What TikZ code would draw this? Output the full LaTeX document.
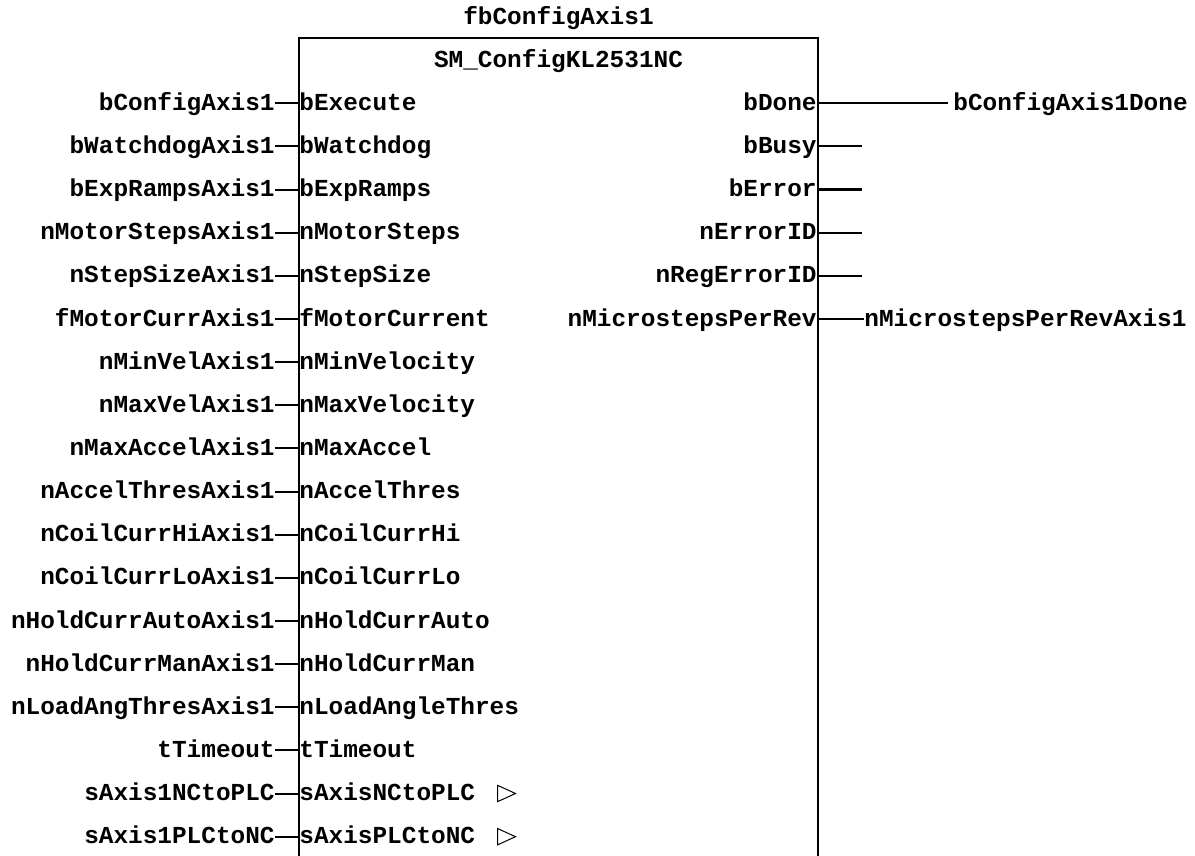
\documentclass[tikz,border=0pt]{standalone}
\usepackage{fontspec}
\setmainfont{Liberation Mono}

\begin{document}
\begin{tikzpicture}[x=0.5pt, y=-0.5pt,
    every node/.style = {font=\fontsize{12.2}{14}\selectfont\bfseries, inner sep=0pt},
    label/.style = {text height=9pt, text depth=2pt},
    invar/.style = {label, anchor=east},
    inpin/.style = {label, anchor=west},
    outpin/.style = {label, anchor=east},
    outvar/.style = {label, anchor=west},
    wire/.style = {line width=1pt},
    refmark/.style = {line width=0.5pt}]
                        \useasboundingbox (0,0) rectangle (1195,856);

                        % block outline, open at the bottom
                        \draw[line width=1pt] (299,856) -- (299,38.3) -- (818,38.3) -- (818,856);
                        \node[anchor=base] (inst) at (558.5,25) {fbConfigAxis1};
                        \node[anchor=base] (type) at (558.5,68) {SM\_ConfigKL2531NC};

                        % inputs
                        \node[inpin] (pExecute) at (299,103.3) {bExecute};
                        \node[inpin] (pWatchdog) at (299,146.4) {bWatchdog};
                        \node[inpin] (pExpRamps) at (299,189.6) {bExpRamps};
                        \node[inpin] (pMotorSteps) at (299,232.7) {nMotorSteps};
                        \node[inpin] (pStepSize) at (299,275.9) {nStepSize};
                        \node[inpin] (pMotorCurr) at (299,319.0) {fMotorCurrent};
                        \node[inpin] (pMinVel) at (299,362.1) {nMinVelocity};
                        \node[inpin] (pMaxVel) at (299,405.3) {nMaxVelocity};
                        \node[inpin] (pMaxAccel) at (299,448.4) {nMaxAccel};
                        \node[inpin] (pAccelThres) at (299,491.6) {nAccelThres};
                        \node[inpin] (pCoilHi) at (299,534.7) {nCoilCurrHi};
                        \node[inpin] (pCoilLo) at (299,577.8) {nCoilCurrLo};
                        \node[inpin] (pHoldAuto) at (299,621.0) {nHoldCurrAuto};
                        \node[inpin] (pHoldMan) at (299,664.1) {nHoldCurrMan};
                        \node[inpin] (pLoadAng) at (299,707.3) {nLoadAngleThres};
                        \node[inpin] (pTimeout) at (299,750.4) {tTimeout};
                        \node[inpin] (pNCtoPLC) at (299,793.5) {sAxisNCtoPLC};
                        \node[inpin] (pPLCtoNC) at (299,836.7) {sAxisPLCtoNC};

                        \node[invar] (vExecute) at (275,103.3) {bConfigAxis1};
                        \node[invar] (vWatchdog) at (275,146.4) {bWatchdogAxis1};
                        \node[invar] (vExpRamps) at (275,189.6) {bExpRampsAxis1};
                        \node[invar] (vMotorSteps) at (275,232.7) {nMotorStepsAxis1};
                        \node[invar] (vStepSize) at (275,275.9) {nStepSizeAxis1};
                        \node[invar] (vMotorCurr) at (275,319.0) {fMotorCurrAxis1};
                        \node[invar] (vMinVel) at (275,362.1) {nMinVelAxis1};
                        \node[invar] (vMaxVel) at (275,405.3) {nMaxVelAxis1};
                        \node[invar] (vMaxAccel) at (275,448.4) {nMaxAccelAxis1};
                        \node[invar] (vAccelThres) at (275,491.6) {nAccelThresAxis1};
                        \node[invar] (vCoilHi) at (275,534.7) {nCoilCurrHiAxis1};
                        \node[invar] (vCoilLo) at (275,577.8) {nCoilCurrLoAxis1};
                        \node[invar] (vHoldAuto) at (275,621.0) {nHoldCurrAutoAxis1};
                        \node[invar] (vHoldMan) at (275,664.1) {nHoldCurrManAxis1};
                        \node[invar] (vLoadAng) at (275,707.3) {nLoadAngThresAxis1};
                        \node[invar] (vTimeout) at (275,750.4) {tTimeout};
                        \node[invar] (vNCtoPLC) at (275,793.5) {sAxis1NCtoPLC};
                        \node[invar] (vPLCtoNC) at (275,836.7) {sAxis1PLCtoNC};

                        \draw[wire] (vExecute) -- (pExecute);
                        \draw[wire] (vWatchdog) -- (pWatchdog);
                        \draw[wire] (vExpRamps) -- (pExpRamps);
                        \draw[wire] (vMotorSteps) -- (pMotorSteps);
                        \draw[wire] (vStepSize) -- (pStepSize);
                        \draw[wire] (vMotorCurr) -- (pMotorCurr);
                        \draw[wire] (vMinVel) -- (pMinVel);
                        \draw[wire] (vMaxVel) -- (pMaxVel);
                        \draw[wire] (vMaxAccel) -- (pMaxAccel);
                        \draw[wire] (vAccelThres) -- (pAccelThres);
                        \draw[wire] (vCoilHi) -- (pCoilHi);
                        \draw[wire] (vCoilLo) -- (pCoilLo);
                        \draw[wire] (vHoldAuto) -- (pHoldAuto);
                        \draw[wire] (vHoldMan) -- (pHoldMan);
                        \draw[wire] (vLoadAng) -- (pLoadAng);
                        \draw[wire] (vTimeout) -- (pTimeout);
                        \draw[wire] (vNCtoPLC) -- (pNCtoPLC);
                        \draw[wire] (vPLCtoNC) -- (pPLCtoNC);

                        % in-out markers
                        \draw[refmark] (497.5,785.3) -- (515.5,793.5) -- (497.5,801.7) -- cycle;
                        \draw[refmark] (497.5,828.5) -- (515.5,836.7) -- (497.5,844.9) -- cycle;

                        % outputs
                        \node[outpin] (pDone) at (817,103.3) {bDone};
                        \node[outpin] (pBusy) at (817,146.4) {bBusy};
                        \node[outpin] (pError) at (817,189.6) {bError};
                        \node[outpin] (pErrorID) at (817,232.7) {nErrorID};
                        \node[outpin] (pRegErrorID) at (817,275.9) {nRegErrorID};
                        \node[outpin] (pMicrosteps) at (817,319.0) {nMicrostepsPerRev};

                        \node[outvar, inner xsep=2.5pt] (vDone) at (948,103.3) {bConfigAxis1Done};
                        \node[outvar] (vMicrosteps) at (864,319.0) {nMicrostepsPerRevAxis1};
                        \coordinate (eBusy) at (862,146.4);
                        \coordinate (eError) at (862,189.6);
                        \coordinate (eErrorID) at (862,232.7);
                        \coordinate (eRegErrorID) at (862,275.9);

                        \draw[wire] (pDone) -- (vDone);
                        \draw[wire] (pBusy.east) -- (eBusy);
                        \draw[line width=1.6pt] (pError.east) -- (eError);
                        \draw[wire] (pErrorID.east) -- (eErrorID);
                        \draw[wire] (pRegErrorID.east) -- (eRegErrorID);
                        \draw[wire] (pMicrosteps) -- (vMicrosteps);
                    \end{tikzpicture}
\end{document}
